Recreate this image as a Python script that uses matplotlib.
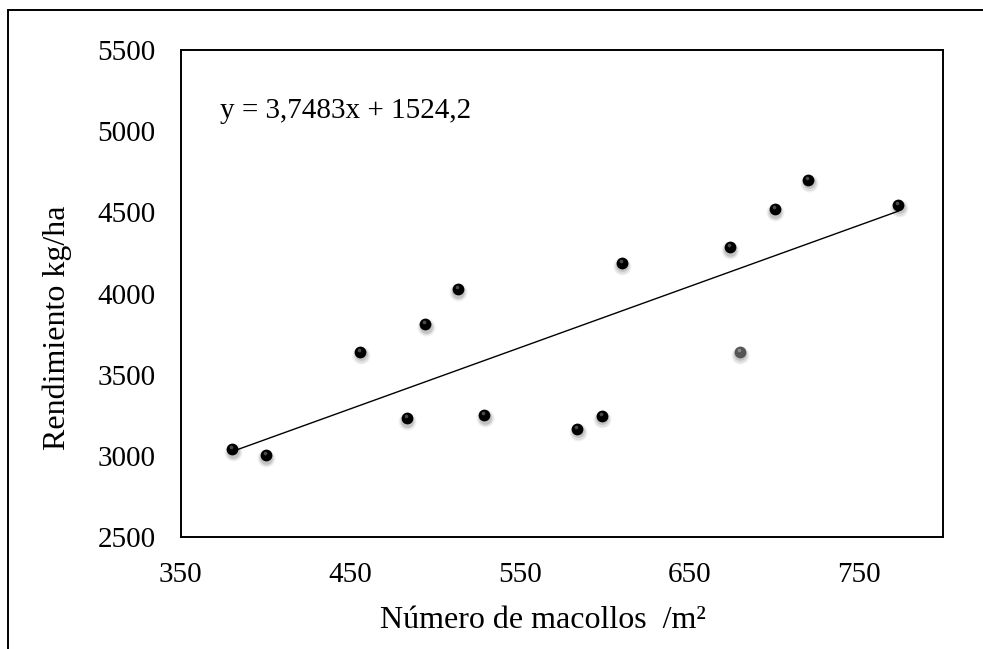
import numpy as np
import matplotlib
matplotlib.use("Agg")
import matplotlib.pyplot as plt
from matplotlib.patches import Rectangle
from matplotlib.transforms import offset_copy

plt.rcParams["font.family"] = ["Liberation Serif", "DejaVu Serif"]

# tillers per m2 vs yield (kg/ha)
macollos = [380.4, 400.2, 456, 483.4, 494.2, 513.5, 529.1, 584, 598.4, 610.2, 674.1, 700.5, 720.3, 773.4]
rendimiento = [3042, 3005, 3643, 3233, 3813, 4027, 3251, 3169, 3247, 4189, 4285, 4519, 4700, 4546]
# the one point drawn in grey
macollos_gris = [680]
rendimiento_gris = [3641]

x_ticks = [350, 450, 550, 650, 750]
y_ticks = [2500, 3000, 3500, 4000, 4500, 5000, 5500]
ecuacion = "y = 3,7483x + 1524,2"

fig = plt.figure(figsize=(9.83, 6.49), dpi=100)
# outer frame of the original chart (cropped at right and bottom)
top = 1 - 10 / 649
fig.patches.append(Rectangle((8 / 983, -0.2), 1.2, top + 0.2, transform=fig.transFigure,
                             fill=False, edgecolor="black", linewidth=1.4))

ax = fig.add_axes([180.7 / 983, 1 - 537.3 / 649, 762.6 / 983, 487.3 / 649])

all_x = np.array(macollos + macollos_gris)
all_y = np.array(rendimiento + rendimiento_gris)

# soft drop shadow under the spheres
for dy, size, alpha in [(-3, 170, 0.05), (-3, 125, 0.08), (-2.5, 85, 0.12)]:
    tr = offset_copy(ax.transData, fig=fig, x=0.5, y=dy, units="dots")
    ax.scatter(all_x, all_y, s=size, color="black", alpha=alpha, linewidths=0, transform=tr, zorder=2)

ax.scatter(macollos, rendimiento, s=72, color="black", linewidths=0, zorder=3)
ax.scatter(macollos_gris, rendimiento_gris, s=72, color="#555555", linewidths=0, zorder=3)
hl = offset_copy(ax.transData, fig=fig, x=-1, y=2, units="dots")
ax.scatter(macollos, rendimiento, s=7, color="#4a4a4a", linewidths=0, transform=hl, zorder=4)
ax.scatter(macollos_gris, rendimiento_gris, s=7, color="#8a8a8a", linewidths=0, transform=hl, zorder=4)

# linear trend
m, b = np.polyfit(all_x, all_y, 1)
xt = np.array([all_x.min(), all_x.max()])
ax.plot(xt, m * xt + b, color="black", linewidth=1.0, zorder=2.5)

ax.text(0.0515, 0.8604, ecuacion, transform=ax.transAxes, fontsize=21, va="baseline", ha="left")

ax.set_xlim(350, 800)
ax.set_ylim(2500, 5500)
ax.set_xticks(x_ticks)
ax.set_yticks(y_ticks)
ax.tick_params(length=0, labelsize=21, pad=18)
for s in ax.spines.values():
    s.set_linewidth(1.4)

ax.set_xlabel("Número de macollos  /m²", fontsize=23)
ax.xaxis.label.set_va("baseline")
ax.xaxis.set_label_coords(0.475, (537.3 - 628) / 487.3)
ax.set_ylabel("Rendimiento kg/ha", fontsize=23)
ax.yaxis.label.set_va("baseline")
ax.yaxis.set_label_coords((65 - 180.7) / 762.6, 0.4305)

fig.savefig("out.png", dpi=100)
